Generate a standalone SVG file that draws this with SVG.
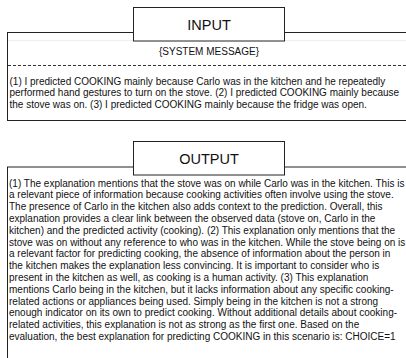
<svg xmlns="http://www.w3.org/2000/svg" width="406" height="358" viewBox="0 0 406 358">
<style>
.box{fill:#fff;stroke:#222;stroke-width:1}
.title{font-family:"Liberation Sans",Arial,sans-serif;font-size:14.5px;fill:#111;text-anchor:middle}
.body{font-family:"Liberation Sans",Arial,sans-serif;font-size:10px;fill:#111}
.sys{font-family:"Liberation Sans",Arial,sans-serif;font-size:10px;fill:#111;text-anchor:middle}
.dash{stroke:#333;stroke-width:1;stroke-dasharray:3,2}
.faint{stroke:#eee;stroke-width:1}
</style>
<rect width="406" height="358" fill="#fff"/>
<g id="input">
<rect class="box" x="7.5" y="32.5" width="410" height="88"/>
<line class="faint" x1="8" y1="40.5" x2="406" y2="40.5"/>
<text class="sys" x="209" y="54.5">{SYSTEM MESSAGE}</text>
<line class="dash" x1="8" y1="65.5" x2="406" y2="65.5"/>
<text class="body" x="9.5" y="84.5">(1) I predicted COOKING mainly because Carlo was in the kitchen and he repeatedly</text>
<text class="body" x="9.5" y="96">performed hand gestures to turn on the stove. (2) I predicted COOKING mainly because</text>
<text class="body" x="9.5" y="107.5">the stove was on. (3) I predicted COOKING mainly because the fridge was open.</text>
</g>
<g id="input-title">
<rect class="box" x="133.5" y="7.5" width="151" height="33.5"/>
<text class="title" x="209" y="29.5">INPUT</text>
</g>
<g id="output">
<rect class="box" x="7.5" y="167" width="410" height="200"/>
<text class="body" x="9" y="186.5">(1) The explanation mentions that the stove was on while Carlo was in the kitchen. This is</text>
<text class="body" x="9" y="198.3">a relevant piece of information because cooking activities often involve using the stove.</text>
<text class="body" x="9" y="210.1">The presence of Carlo in the kitchen also adds context to the prediction. Overall, this</text>
<text class="body" x="9" y="221.9">explanation provides a clear link between the observed data (stove on, Carlo in the</text>
<text class="body" x="9" y="233.7">kitchen) and the predicted activity (cooking). (2) This explanation only mentions that the</text>
<text class="body" x="9" y="245.5">stove was on without any reference to who was in the kitchen. While the stove being on is</text>
<text class="body" x="9" y="257.3">a relevant factor for predicting cooking, the absence of information about the person in</text>
<text class="body" x="9" y="269.1">the kitchen makes the explanation less convincing. It is important to consider who is</text>
<text class="body" x="9" y="280.9">present in the kitchen as well, as cooking is a human activity. (3) This explanation</text>
<text class="body" x="9" y="292.7">mentions Carlo being in the kitchen, but it lacks information about any specific cooking-</text>
<text class="body" x="9" y="304.5">related actions or appliances being used. Simply being in the kitchen is not a strong</text>
<text class="body" x="9" y="316.3">enough indicator on its own to predict cooking. Without additional details about cooking-</text>
<text class="body" x="9" y="328.1">related activities, this explanation is not as strong as the first one. Based on the</text>
<text class="body" x="9" y="339.9">evaluation, the best explanation for predicting COOKING in this scenario is: CHOICE=1</text>
</g>
<g id="output-title">
<rect class="box" x="133.5" y="141.5" width="151" height="33.5"/>
<text class="title" x="209" y="164">OUTPUT</text>
</g>
<g id="connectors"></g>
</svg>
